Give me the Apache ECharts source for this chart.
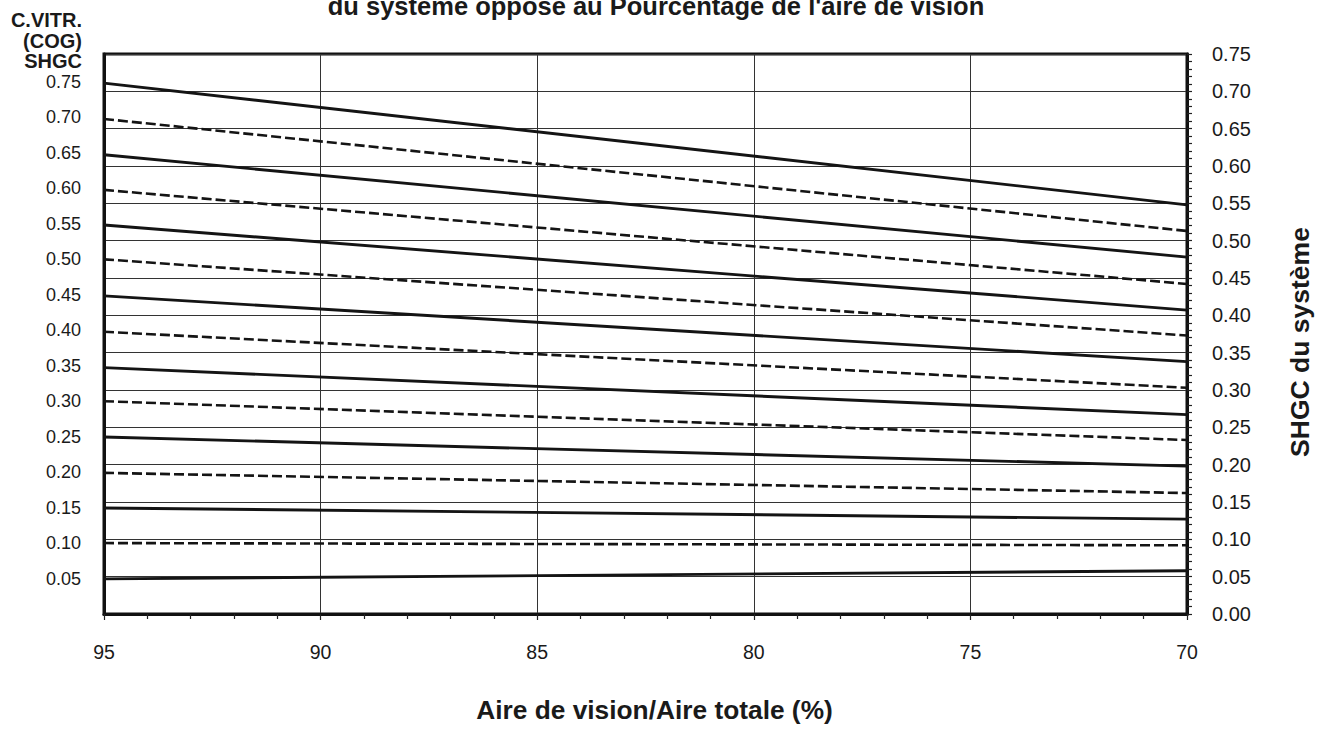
<!DOCTYPE html>
<html>
<head>
<meta charset="utf-8">
<script src="https://cdn.jsdelivr.net/npm/echarts@6/dist/echarts.min.js"></script>
<style>
html,body{margin:0;padding:0;background:#fff;}
#chart{width:1327px;height:730px;}
</style>
</head>
<body>
<div id="chart"></div>
<script>
// Vision area / total area (%) at which each line was read
const visionPct = [95, 70];
const xTickLabels = [95, 90, 85, 80, 75, 70];
// Centre-of-glass SHGC of each line (left labels)
const cogValues = [0.75, 0.70, 0.65, 0.60, 0.55, 0.50, 0.45, 0.40, 0.35, 0.30, 0.25, 0.20, 0.15, 0.10, 0.05];
// System SHGC read at 95 % and at 70 % vision area
const sysAt95 = [0.711, 0.663, 0.615, 0.568, 0.521, 0.475, 0.426, 0.378, 0.330, 0.285, 0.237, 0.189, 0.142, 0.095, 0.047];
const sysAt70 = [0.548, 0.513, 0.478, 0.442, 0.407, 0.373, 0.338, 0.303, 0.267, 0.233, 0.198, 0.162, 0.127, 0.092, 0.058];
// Right axis tick labels
const rightTicks = ['0.00','0.05','0.10','0.15','0.20','0.25','0.30','0.35','0.40','0.45','0.50','0.55','0.60','0.65','0.70','0.75'];

const TXT = '#1a1a1a';
const FONT = 'Liberation Sans, Arial, sans-serif';

const series = cogValues.map((c, i) => ({
  name: 'COG ' + c.toFixed(2),
  type: 'line',
  xAxisIndex: 0,
  yAxisIndex: 1,
  symbol: 'none',
  silent: true,
  lineStyle: {
    color: '#141414',
    width: i % 2 === 0 ? 2.9 : 2.6,
    type: i % 2 === 0 ? 'solid' : [10, 4]
  },
  data: [[visionPct[0], sysAt95[i]], [visionPct[1], sysAt70[i]]],
  z: 3
}));

const chart = echarts.init(document.getElementById('chart'), null, {renderer: 'svg'});
chart.setOption({
  backgroundColor: '#fff',
  animation: false,
  textStyle: {fontFamily: FONT, color: TXT},
  title: [
    {
      text: "du système opposé au Pourcentage de l'aire de vision",
      left: 656, top: -7, textAlign: 'center', padding: 0,
      textStyle: {fontSize: 25.5, fontWeight: 'bold', color: TXT, fontFamily: FONT, lineHeight: 26}
    },
    {
      text: 'C.VITR.\n(COG)\nSHGC',
      left: 82, top: 10, textAlign: 'right', padding: 0,
      textStyle: {fontSize: 20, fontWeight: 'bold', color: TXT, fontFamily: FONT, lineHeight: 20.5, align: 'right'}
    }
  ],
  grid: {
    left: 104, right: 140, top: 54, bottom: 116,
    show: true, borderColor: '#111', borderWidth: 3, backgroundColor: 'transparent',
    containLabel: false
  },
  xAxis: {
    type: 'value', min: 70, max: 95, interval: 5, inverse: true,
    name: 'Aire de vision/Aire totale (%)',
    nameLocation: 'middle', nameGap: 83,
    nameTextStyle: {fontSize: 26.3, fontWeight: 'bold', color: TXT, fontFamily: FONT, padding: [0, 0, 0, 18]},
    axisLine: {show: true, lineStyle: {color: '#111', width: 3}},
    axisTick: {show: true, inside: false, length: 6, lineStyle: {color: '#222', width: 1.2}},
    minorTick: {show: true, splitNumber: 5, length: 5, lineStyle: {color: '#222', width: 1.2}},
    axisLabel: {fontSize: 19.5, color: TXT, margin: 28, fontFamily: FONT,
      formatter: v => xTickLabels.includes(v) ? String(v) : ''},
    splitLine: {show: true, lineStyle: {color: '#333', width: 1}}
  },
  yAxis: [
    {
      type: 'value', position: 'left', min: 0, max: 0.75 / 0.95, interval: 0.05,
      axisLine: {show: true, lineStyle: {color: '#111', width: 3}},
      axisTick: {show: false},
      splitLine: {show: false},
      axisLabel: {fontSize: 18, color: TXT, margin: 23, fontFamily: FONT,
        showMinLabel: false, showMaxLabel: false,
        formatter: v => {
          const hit = cogValues.find(c => Math.abs(c - v) < 1e-6);
          return hit !== undefined ? hit.toFixed(2) : '';
        }}
    },
    {
      type: 'value', position: 'right', min: 0, max: 0.75, interval: 0.05,
      name: 'SHGC du système', nameLocation: 'middle', nameRotate: 90, nameGap: 99,
      nameTextStyle: {fontSize: 26.5, fontWeight: 'bold', color: TXT, fontFamily: FONT, padding: [0, 16, 0, 0]},
      axisLine: {show: true, lineStyle: {color: '#111', width: 3}},
      axisTick: {show: true, inside: false, length: 5, lineStyle: {color: '#222', width: 1.2}},
      minorTick: {show: true, splitNumber: 5, length: 5, lineStyle: {color: '#222', width: 1.2}},
      splitLine: {show: true, lineStyle: {color: '#333', width: 1}},
      axisLabel: {fontSize: 20, color: TXT, margin: 25, fontFamily: FONT,
        formatter: v => {
          const idx = Math.round(v / 0.05);
          return rightTicks[idx] !== undefined ? rightTicks[idx] : '';
        }}
    }
  ],
  series: series
});
</script>
</body>
</html>
